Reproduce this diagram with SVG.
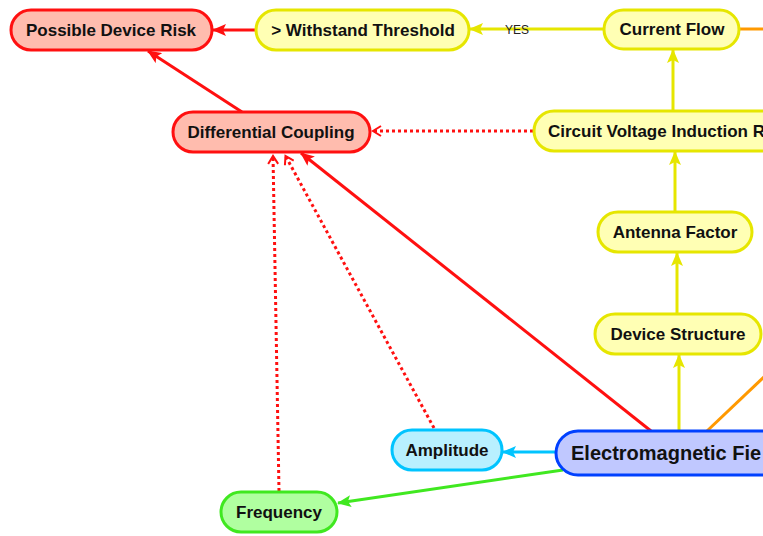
<svg xmlns="http://www.w3.org/2000/svg" width="763" height="536" viewBox="0 0 763 536">
<defs>
<style>
text{font-family:"Liberation Sans",Arial,sans-serif;font-weight:bold;font-size:17px;fill:#111;text-anchor:middle;dominant-baseline:central}
.n{stroke-width:3}
.red{fill:#ffbcae;stroke:#ff1010}
.yel{fill:#ffffb4;stroke:#e6e600}
.blu{fill:#c0c8ff;stroke:#0040ff}
.cya{fill:#b8f0ff;stroke:#00c4ff}
.grn{fill:#b0ffa0;stroke:#40e820}
.c{fill:none;stroke-width:3}
.dot{stroke-dasharray:3 3}
.lbl{font-weight:normal;font-size:12px;fill:#222}
</style>
<marker id="ar" viewBox="0 0 14 12" refX="13" refY="6" markerWidth="14" markerHeight="12" markerUnits="userSpaceOnUse" orient="auto"><path d="M0,0 L14,6 L0,12 L3,6 Z" fill="#ff1010"/></marker>
<marker id="ay" viewBox="0 0 14 12" refX="13" refY="6" markerWidth="14" markerHeight="12" markerUnits="userSpaceOnUse" orient="auto"><path d="M0,0 L14,6 L0,12 L3,6 Z" fill="#e6e600"/></marker>
<marker id="ac" viewBox="0 0 14 12" refX="13" refY="6" markerWidth="14" markerHeight="12" markerUnits="userSpaceOnUse" orient="auto"><path d="M0,0 L14,6 L0,12 L3,6 Z" fill="#00c4ff"/></marker>
<marker id="ag" viewBox="0 0 14 12" refX="13" refY="6" markerWidth="14" markerHeight="12" markerUnits="userSpaceOnUse" orient="auto"><path d="M0,0 L14,6 L0,12 L3,6 Z" fill="#40e820"/></marker>
<marker id="ao" viewBox="0 0 12 12" refX="11" refY="6" markerWidth="12" markerHeight="12" markerUnits="userSpaceOnUse" orient="auto"><path d="M2,1 L10,6 L2,11" fill="none" stroke="#ff1010" stroke-width="2"/></marker>
</defs>
<g id="connectors">
<line class="c" stroke="#ff1010" x1="256" y1="30" x2="213" y2="30" marker-end="url(#ar)"/>
<line class="c" stroke="#e6e600" x1="604" y1="29" x2="470" y2="29" marker-end="url(#ay)"/>
<text class="lbl" x="517" y="30">YES</text>
<line class="c" stroke="#ff9900" x1="739" y1="29" x2="763" y2="29"/>
<line class="c" stroke="#e6e600" x1="673" y1="111" x2="673" y2="50" marker-end="url(#ay)"/>
<line class="c dot" stroke="#ff1010" x1="533" y1="131" x2="372" y2="131" marker-end="url(#ao)"/>
<line class="c" stroke="#e6e600" x1="675" y1="212" x2="675" y2="152" marker-end="url(#ay)"/>
<line class="c" stroke="#e6e600" x1="677" y1="314" x2="677" y2="253" marker-end="url(#ay)"/>
<line class="c" stroke="#e6e600" x1="679" y1="431" x2="679" y2="355" marker-end="url(#ay)"/>
<line class="c" stroke="#ff1010" x1="651" y1="431" x2="301" y2="153" marker-end="url(#ar)"/>
<line class="c" stroke="#ff1010" x1="242" y1="112" x2="148" y2="51" marker-end="url(#ar)"/>
<line class="c dot" stroke="#ff1010" x1="434" y1="428" x2="285" y2="155" marker-end="url(#ao)"/>
<line class="c dot" stroke="#ff1010" x1="279" y1="491" x2="273" y2="155" marker-end="url(#ao)"/>
<line class="c" stroke="#00c4ff" x1="556" y1="452" x2="503" y2="452" marker-end="url(#ac)"/>
<line class="c" stroke="#40e820" x1="563" y1="470" x2="338" y2="503" marker-end="url(#ag)"/>
<line class="c" stroke="#ff9900" x1="707" y1="431" x2="765" y2="376"/>
</g>
<g id="n-risk"><rect class="n red" x="11" y="10" width="201" height="40" rx="20"/><text x="111" y="30">Possible Device Risk</text></g>
<g id="n-threshold"><rect class="n yel" x="256" y="10" width="213" height="40" rx="20"/><text x="363" y="30">&gt; Withstand Threshold</text></g>
<g id="n-current"><rect class="n yel" x="604" y="10" width="135" height="39" rx="19.5"/><text x="672" y="29">Current Flow</text></g>
<g id="n-differential"><rect class="n red" x="173" y="112" width="197" height="40" rx="20"/><text x="271" y="132">Differential Coupling</text></g>
<g id="n-circuit"><rect class="n yel" x="534" y="111" width="260" height="40" rx="20"/><text x="548" y="131" style="text-anchor:start">Circuit Voltage Induction R</text></g>
<g id="n-antenna"><rect class="n yel" x="598" y="212" width="154" height="40" rx="20"/><text x="675" y="232">Antenna Factor</text></g>
<g id="n-structure"><rect class="n yel" x="595" y="314" width="166" height="40" rx="20"/><text x="678" y="334">Device Structure</text></g>
<g id="n-emf"><rect class="n blu" x="556" y="431" width="260" height="44" rx="22"/><text x="571" y="453" style="text-anchor:start;font-size:20px">Electromagnetic Fie</text></g>
<g id="n-amplitude"><rect class="n cya" x="392" y="430" width="110" height="40" rx="20"/><text x="447" y="450">Amplitude</text></g>
<g id="n-frequency"><rect class="n grn" x="221" y="492" width="116" height="40" rx="20"/><text x="279" y="512">Frequency</text></g>
</svg>
